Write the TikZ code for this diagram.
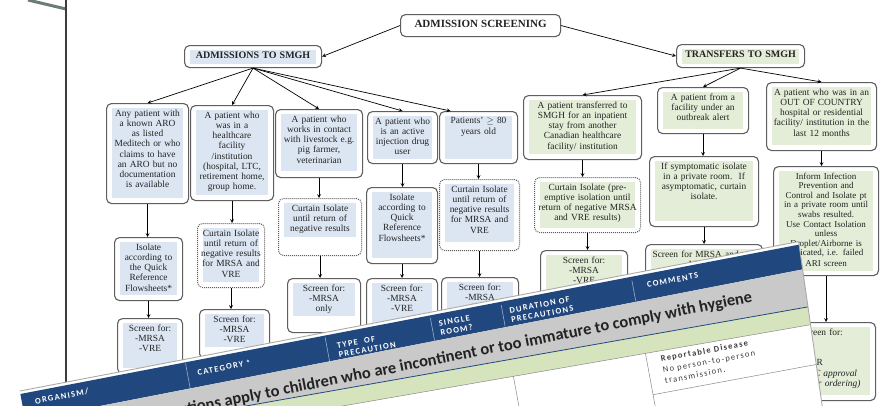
\documentclass[tikz,border=0pt]{standalone}
\usepackage{fontspec}
\setmainfont{Liberation Serif}
\newfontfamily\sheetfont{Carlito}
\newfontfamily\sheetspaced[LetterSpace=15]{Carlito}
\newlength{\shadeinset}
\newlength{\boxradius}
\setlength{\shadeinset}{6pt}
\setlength{\boxradius}{5pt}
\definecolor{boxline}{RGB}{95,95,95}
\definecolor{flowink}{RGB}{35,35,35}
\definecolor{admshade}{RGB}{220,230,242}
\definecolor{trfshade}{RGB}{228,237,216}
\definecolor{pageedge}{RGB}{60,60,60}
\definecolor{backedge}{RGB}{105,125,115}
\definecolor{sheetblue}{RGB}{33,72,126}
\definecolor{sheetgrey}{RGB}{201,201,201}
\definecolor{sheetgreen}{RGB}{214,228,190}
\definecolor{sheetrim}{RGB}{170,170,170}
\definecolor{sheetink}{RGB}{60,60,60}
\newcommand{\flowtext}{\fontsize{9.4}{10.2}\selectfont}
\newcommand{\headtext}{\fontsize{10}{12}\selectfont\bfseries}
\newcommand{\capstext}{\sheetspaced\bfseries\fontsize{8.5}{9.5}\selectfont}
\newcommand{\rowtext}{\sheetfont\bfseries\fontsize{16.5}{19}\selectfont}
\newcommand{\celltext}{\sheetspaced\fontsize{8.5}{10}\selectfont}
% #1 name, #2 outline, #3 shade, #4 left, #5 top, #6 width, #7 height, #8 shade depth, #9 text
\newcommand{\flowbox}[9]{
	\node[#2, anchor=north west, minimum width=#6pt, minimum height=#7pt] (#1) at (#4,#5) {};
	\pgfmathsetmacro{\shadedepth}{5+#8}
	\pgfmathsetmacro{\shadewidth}{#6-4}
	\fill[#3] ([xshift=\shadeinset, yshift=-5pt]#1.north west) rectangle ([xshift=-\shadeinset, yshift=-\shadedepth pt]#1.north east);
	\node[anchor=north, text width=\shadewidth pt, align=center, inner sep=0pt, font=\flowtext, text=flowink] at ([yshift=-6.5pt]#1.north) {#9};
}
\tikzstyle{solidbox} = [draw=boxline, line width=1.1pt, rounded corners=\boxradius, fill=white]
\tikzstyle{dottedbox} = [draw=boxline, line width=1pt, densely dotted, rounded corners=\boxradius, fill=white]
\tikzstyle{flowarrow} = [->, draw=black, line width=0.7pt]
\tikzstyle{headcell} = [anchor=west, align=left, inner sep=0pt, text=white, font=\capstext]
\tikzstyle{cellnote} = [anchor=west, inner sep=0pt, text=sheetink, font=\celltext]
\tikzstyle{colrule} = [draw=white!55!sheetblue, line width=0.6pt]
\tikzstyle{bodyrule} = [draw=sheetink!60, line width=0.5pt]

\begin{document}
\begin{tikzpicture}[x=1pt, y=-1pt, >=stealth]
	\useasboundingbox[fill=white] (0,0) rectangle (885,405);
	
	% edges of the pages underneath
	\draw[backedge, line width=3pt] (28,0) -- (66,9);
	\draw[pageedge, line width=2.2pt] (66,0) -- (66,400);
	
	% headings
	\flowbox{scr}{solidbox}{white}{400}{14}{160}{22}{13}{\headtext\fontsize{11}{12}\selectfont ADMISSION SCREENING}
	\flowbox{adm}{solidbox}{admshade}{184}{45}{137}{22}{14}{\headtext ADMISSIONS TO SMGH}
	\flowbox{trf}{solidbox}{trfshade}{676}{44}{128}{23}{15}{\headtext TRANSFERS TO SMGH}
	
	% admissions
	\flowbox{a1}{solidbox}{admshade}{106}{103}{82}{100}{90}{Any patient with\\ a known ARO\\ as listed\\ Meditech or who\\ claims to have\\ an ARO but no\\ documentation\\ is available}
	\flowbox{a2}{solidbox}{admshade}{190}{105}{83}{95}{85}{A patient who\\ was in a\\ healthcare\\ facility\\ /institution\\ (hospital, LTC,\\ retirement home,\\ group home.}
	\flowbox{a3}{solidbox}{admshade}{275}{109}{87}{68}{57}{A patient who\\ works in contact\\ with livestock e.g.\\ pig farmer,\\ veterinarian}
	\flowbox{a4}{solidbox}{admshade}{367}{111}{70}{52}{43}{A patient who\\ is an active\\ injection drug\\ user}
	\flowbox{a5}{solidbox}{admshade}{439}{111}{78}{52}{43}{Patients' $\geq$ 80\\ years old}
	
	\flowbox{a1b}{solidbox}{admshade}{114}{237}{68}{63}{53}{Isolate\\ according to\\ the Quick\\ Reference\\ Flowsheets*}
	\flowbox{a2b}{dottedbox}{admshade}{197}{223}{67}{64}{54}{Curtain Isolate\\ until return of\\ negative results\\ for MRSA and\\ VRE}
	\flowbox{a3b}{dottedbox}{admshade}{278}{198}{83}{57}{34}{Curtain Isolate\\ until return of\\ negative results}
	\flowbox{a4b}{solidbox}{admshade}{366}{187}{71}{76}{66}{Isolate\\ according to\\ Quick\\ Reference\\ Flowsheets*}
	\flowbox{a5b}{dottedbox}{admshade}{439}{179}{80}{71}{58}{Curtain Isolate\\ until return of\\ negative results\\ for MRSA and\\ VRE}
	
	\flowbox{a1c}{solidbox}{admshade}{117}{318}{65}{55}{45}{Screen for:\\ -MRSA\\ -VRE}
	\flowbox{a2c}{solidbox}{admshade}{199}{309}{70}{49}{33}{Screen for:\\ -MRSA\\ -VRE}
	\flowbox{a3c}{solidbox}{admshade}{287}{278}{73}{54}{33}{Screen for:\\ -MRSA\\ only}
	\flowbox{a4c}{solidbox}{admshade}{366}{278}{71}{55}{40}{Screen for:\\ -MRSA\\ -VRE}
	\flowbox{a5c}{solidbox}{admshade}{441}{277}{77}{55}{40}{Screen for:\\ -MRSA\\ -VRE}
	
	% transfers
	\flowbox{t1}{solidbox}{trfshade}{523}{95}{118}{64}{54}{A patient transferred to\\ SMGH for an inpatient\\ stay from another\\ Canadian healthcare\\ facility/ institution}
	\flowbox{t2}{solidbox}{trfshade}{657}{87}{91}{46}{37}{A patient from a\\ facility under an\\ outbreak alert}
	\flowbox{t3}{solidbox}{trfshade}{766}{82}{110}{68}{58}{A patient who was in an\\ OUT OF COUNTRY\\ hospital or residential\\ facility/ institution in the\\ last 12 months}
	
	\flowbox{t1b}{dottedbox}{trfshade}{534}{177}{106}{55}{46}{Curtain Isolate (pre-\\ emptive isolation until\\ return of negative MRSA\\ and VRE results)}
	\flowbox{t2b}{solidbox}{trfshade}{649}{156}{109}{70}{60}{If symptomatic isolate\\ in a private room.\ \ If\\ asymptomatic, curtain\\ isolate.}
	\flowbox{t3b}{solidbox}{trfshade}{773}{166}{105}{109}{100}{\fontsize{9}{9.6}\selectfont Inform Infection\\ Prevention and\\ Control and Isolate pt\\ in a private room until\\ swabs resulted.\\ Use Contact Isolation\\ unless\\ Droplet/Airborne is\\ indicated, i.e. failed\\ ARI screen}
	
	\flowbox{t1c}{solidbox}{trfshade}{540}{250}{87}{60}{40}{Screen for:\\ -MRSA\\ -VRE}
	\flowbox{t2c}{solidbox}{trfshade}{645}{244}{117}{60}{40}{\raggedright\hspace*{5pt}Screen for MRSA and\\ VRE. If}
	\flowbox{t3c}{solidbox}{trfshade}{786}{322}{89}{78}{68}{\raggedright\hspace*{12pt}Screen for:\\ \mbox{}\\ \mbox{}\\ \hspace*{14pt}-ESR\\ \hspace*{9pt}\textit{(IPAC approval}\\ \hspace*{9pt}\textit{for ordering)}}
	
	% connectors
	\draw[flowarrow] (scr.west) -- (adm.east);
	\draw[flowarrow] (scr.east) -- (trf.west);
	\foreach \lower in {a1, a2, a3, a4}
		\draw[flowarrow] (adm.south) -- (\lower.north);
	\draw[flowarrow] (adm.south) -- ([xshift=-28pt]a5.north);
	\foreach \lower in {t1, t2, t3}
		\draw[flowarrow] (trf.south) -- (\lower.north);
	\foreach \upper/\lower in {a1/a1b, a1b/a1c, a2/a2b, a2b/a2c, a3/a3b, a3b/a3c, a4/a4b, a4b/a4c, a5/a5b, a5b/a5c, t1/t1b, t1b/t1c, t2/t2b, t2b/t2c, t3/t3b, t3b/t3c}
		\draw[flowarrow] (\upper.south) -- (\upper.south |- \lower.north);
	
	% precautions table lying over the chart
	\begin{scope}[shift={(20,392)}, rotate=10.5, transform shape]
		\begin{scope}
			\clip (0,-1) -- (793,-6) -- (783,240) -- (0,240) -- cycle;
			\fill[white] (0,-8) rectangle (800,240);
			\fill[sheetblue] (0,2) -- (800,-3) -- (800,22) -- (0,29) -- cycle;
			\fill[sheetgrey] (0,29) -- (800,22) -- (800,60) -- (0,53) -- cycle;
			\fill[sheetgreen] (0,53) -- (800,60) -- (800,78) -- (0,69) -- cycle;
			\draw[sheetblue, line width=0.8pt] (0,53) -- (800,60);
			\draw[bodyrule] (0,69) -- (800,78);
			\foreach \u/\v in {168/27, 310/26, 417/25, 489/24, 622/23}
				\draw[colrule] (\u,2) -- (\u,\v);
			\draw[bodyrule] (488,74) -- (488,240);
			\draw[bodyrule] (622,76) -- (622,240);
			\draw[bodyrule] (622,118) -- (800,118);
		\end{scope}
		\draw[sheetrim, line width=0.9pt] (0,-1) -- (793,-6) -- (783,240);
		
		\node[headcell] (horg) at (13,12) {ORGANISM/};
		\node[headcell] (hcat) at (178,13) {CATEGORY *};
		\node[headcell] (htype) at (320,17) {TYPE\ \ OF\\PRECAUTION};
		\node[headcell] (hroom) at (424,14) {SINGLE\\ROOM?};
		\node[headcell] (hdur) at (496,14) {DURATION OF\\PRECAUTIONS};
		\node[headcell] (hcom) at (636,9) {COMMENTS};
		
		\node[anchor=base east, rotate=0.7, inner sep=0pt, text=flowink, font=\rowtext] (hyg) at (737,45) {Precautions apply to children who are incontinent or too immature to comply with hygiene};
		
		\node[cellnote, font=\celltext\bfseries] (rep) at (636,85) {Reportable Disease};
		\node[cellnote] (nop) at (636,96.5) {No person-to-person};
		\node[cellnote] (trm) at (636,106.5) {transmission.};
	\end{scope}
\end{tikzpicture}
\end{document}
